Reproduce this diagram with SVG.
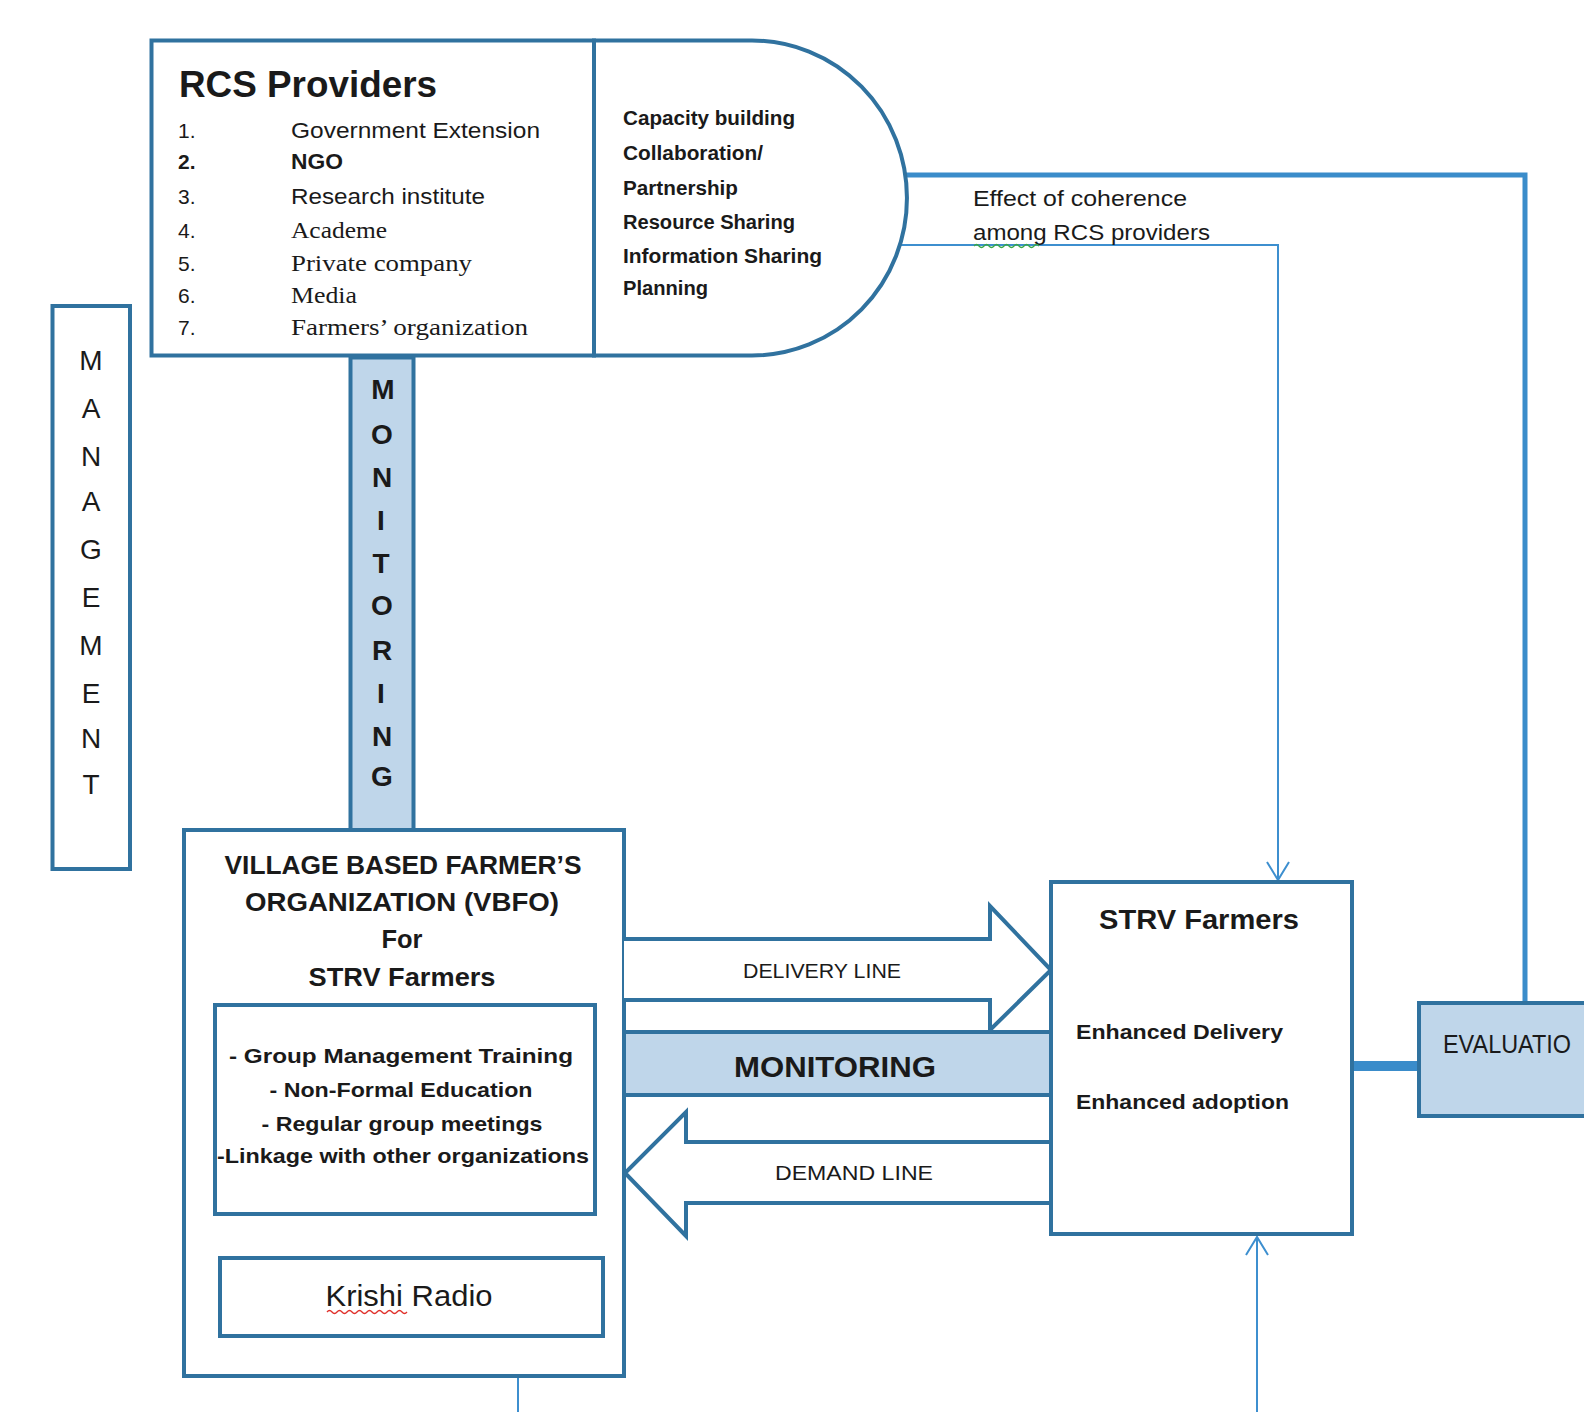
<svg xmlns="http://www.w3.org/2000/svg" width="1584" height="1412" viewBox="0 0 1584 1412">
<style>
.box{fill:#fff;stroke:#30729f;stroke-width:4}
.band{fill:#bfd6ea;stroke:#30729f;stroke-width:4}
.arrow{fill:#fff;stroke:#30729f;stroke-width:4;stroke-linejoin:miter}
.thin{fill:none;stroke:#3d8fcf;stroke-width:2}
.thick{fill:none;stroke:#3a8cca;stroke-width:5}
.sans{font-family:"Liberation Sans",Arial,sans-serif;fill:#1a1a1a}
.serif{font-family:"Liberation Serif","Times New Roman",serif;fill:#1a1a1a}
.b{font-weight:bold}
.vert{font-family:"Liberation Sans",Arial,sans-serif;font-size:28px;text-anchor:middle;fill:#1a1a1a}
.mid{text-anchor:middle}
</style>
<defs>
<marker id="vee" viewBox="0 0 24 24" refX="20" refY="12" markerWidth="24" markerHeight="24" markerUnits="userSpaceOnUse" orient="auto">
<path d="M2 1 L20 12 L2 23" fill="none" stroke="#3d8fcf" stroke-width="2"/>
</marker>
</defs>
<rect width="1584" height="1412" fill="#fff"/>

<g id="connectors">
<path class="thick" d="M903 175 H1525 V1005"/>
<path class="thin" d="M898 245 H1278 V880" marker-end="url(#vee)"/>
<path class="thin" d="M1257 1412 V1237" marker-end="url(#vee)"/>
<path class="thin" d="M518 1376 V1412"/>
<rect x="1352" y="1061" width="67" height="10" fill="#3a8cca"/>
</g>

<g id="rcs-providers">
<rect class="box" x="151.5" y="40.5" width="442.5" height="315"/>
<text class="sans b" x="179" y="97" font-size="37" textLength="258" lengthAdjust="spacingAndGlyphs">RCS Providers</text>
<g class="sans" font-size="21">
<text x="178" y="138">1.</text>
<text x="178" y="169" class="b">2.</text>
<text x="178" y="204">3.</text>
<text x="178" y="238">4.</text>
<text x="178" y="271">5.</text>
<text x="178" y="303">6.</text>
<text x="178" y="335">7.</text>
<text x="291" y="138" font-size="22" textLength="249" lengthAdjust="spacingAndGlyphs">Government  Extension</text>
<text x="291" y="169" class="b" font-size="22" textLength="52" lengthAdjust="spacingAndGlyphs">NGO</text>
<text x="291" y="204" font-size="22" textLength="194" lengthAdjust="spacingAndGlyphs">Research  institute</text>
</g>
<g class="serif" font-size="24">
<text x="291" y="238" textLength="96" lengthAdjust="spacingAndGlyphs">Academe</text>
<text x="291" y="271" textLength="181" lengthAdjust="spacingAndGlyphs">Private  company</text>
<text x="291" y="303" textLength="66" lengthAdjust="spacingAndGlyphs">Media</text>
<text x="291" y="335" textLength="237" lengthAdjust="spacingAndGlyphs">Farmers’  organization</text>
</g>
</g>

<g id="rcs-activities">
<path class="box" d="M594 40.5 H752 A155 157.5 0 0 1 752 355.5 H594 Z"/>
<g class="sans b" font-size="20">
<text x="623" y="125" textLength="172" lengthAdjust="spacingAndGlyphs">Capacity  building</text>
<text x="623" y="160" textLength="140" lengthAdjust="spacingAndGlyphs">Collaboration/</text>
<text x="623" y="195" textLength="115" lengthAdjust="spacingAndGlyphs">Partnership</text>
<text x="623" y="229" textLength="172" lengthAdjust="spacingAndGlyphs">Resource Sharing</text>
<text x="623" y="263" textLength="199" lengthAdjust="spacingAndGlyphs">Information  Sharing</text>
<text x="623" y="295" textLength="85" lengthAdjust="spacingAndGlyphs">Planning</text>
</g>
</g>

<g id="coherence-label">
<text class="sans" x="973" y="206" font-size="22" textLength="214" lengthAdjust="spacingAndGlyphs">Effect  of  coherence</text>
<text class="sans" x="973" y="240" font-size="22" textLength="237" lengthAdjust="spacingAndGlyphs">among  RCS  providers</text>
<path d="M974 246 q2.5 -3 5 0 t5 0 t5 0 t5 0 t5 0 t5 0 t5 0 t5 0 t5 0 t5 0 t5 0 t5 0 t5 0" fill="none" stroke="#3aa845" stroke-width="1.3"/>
</g>

<g id="management">
<rect class="box" x="52.5" y="306" width="77.5" height="563"/>
<text class="vert" x="91" y="370">M</text>
<text class="vert" x="91" y="418">A</text>
<text class="vert" x="91" y="466">N</text>
<text class="vert" x="91" y="511">A</text>
<text class="vert" x="91" y="559">G</text>
<text class="vert" x="91" y="607">E</text>
<text class="vert" x="91" y="655">M</text>
<text class="vert" x="91" y="703">E</text>
<text class="vert" x="91" y="748">N</text>
<text class="vert" x="91" y="794">T</text>
</g>

<g id="monitoring-vertical">
<rect class="band" x="350.5" y="357.5" width="63" height="472.5"/>
<g class="vert b">
<text x="383" y="399">M</text>
<text x="382" y="444">O</text>
<text x="382" y="487">N</text>
<text x="381" y="530">I</text>
<text x="381" y="573">T</text>
<text x="382" y="615">O</text>
<text x="382" y="660">R</text>
<text x="381" y="703">I</text>
<text x="382" y="746">N</text>
<text x="382" y="786">G</text>
</g>
</g>

<g id="vbfo">
<rect class="box" x="184" y="830" width="440" height="546"/>
<g class="sans b mid" font-size="26">
<text x="403" y="874" textLength="357" lengthAdjust="spacingAndGlyphs">VILLAGE BASED FARMER’S</text>
<text x="402" y="911" textLength="314" lengthAdjust="spacingAndGlyphs">ORGANIZATION (VBFO)</text>
<text x="402" y="948" textLength="41" lengthAdjust="spacingAndGlyphs">For</text>
<text x="402" y="986" textLength="187" lengthAdjust="spacingAndGlyphs">STRV Farmers</text>
</g>
</g>

<g id="vbfo-activities">
<rect class="box" x="215" y="1005" width="380" height="209"/>
<g class="sans b mid" font-size="21">
<text x="401" y="1063" textLength="344" lengthAdjust="spacingAndGlyphs">- Group  Management   Training</text>
<text x="401" y="1097" textLength="263" lengthAdjust="spacingAndGlyphs">- Non-Formal  Education</text>
<text x="402" y="1131" textLength="281" lengthAdjust="spacingAndGlyphs">- Regular group meetings</text>
<text x="403" y="1163" textLength="372" lengthAdjust="spacingAndGlyphs">-Linkage  with  other  organizations</text>
</g>
</g>

<g id="krishi-radio">
<rect class="box" x="220" y="1258" width="383" height="78"/>
<text class="sans mid" x="409" y="1306" font-size="30" textLength="167" lengthAdjust="spacingAndGlyphs">Krishi Radio</text>
<path d="M327 1312 q2.5 -3 5 0 t5 0 t5 0 t5 0 t5 0 t5 0 t5 0 t5 0 t5 0 t5 0 t5 0 t5 0 t5 0 t5 0 t5 0 t5 0" fill="none" stroke="#e0302a" stroke-width="1.3"/>
</g>

<g id="delivery-line">
<path class="arrow" d="M624 939 H990 V906 L1051 970 L990 1030 V1000 H624"/>
<text class="sans mid" x="822" y="978" font-size="21" textLength="158" lengthAdjust="spacingAndGlyphs">DELIVERY LINE</text>
</g>

<g id="monitoring-horizontal">
<rect class="band" x="624" y="1032" width="427" height="63"/>
<text class="sans b mid" x="835" y="1077" font-size="29" textLength="202" lengthAdjust="spacingAndGlyphs">MONITORING</text>
</g>

<g id="demand-line">
<path class="arrow" d="M1051 1142 H686 V1112 L625 1173 L686 1236 V1203 H1051"/>
<text class="sans mid" x="854" y="1180" font-size="21" textLength="158" lengthAdjust="spacingAndGlyphs">DEMAND  LINE</text>
</g>

<g id="strv-farmers">
<rect class="box" x="1051" y="882" width="301" height="352"/>
<text class="sans b mid" x="1199" y="929" font-size="28" textLength="200" lengthAdjust="spacingAndGlyphs">STRV Farmers</text>
<text class="sans b" x="1076" y="1039" font-size="21" textLength="207" lengthAdjust="spacingAndGlyphs">Enhanced  Delivery</text>
<text class="sans b" x="1076" y="1109" font-size="21" textLength="213" lengthAdjust="spacingAndGlyphs">Enhanced  adoption</text>
</g>

<g id="evaluation">
<rect class="band" x="1419" y="1003" width="200" height="113"/>
<text class="sans" x="1443" y="1053" font-size="26" textLength="128" lengthAdjust="spacingAndGlyphs">EVALUATIO</text>
</g>
</svg>
